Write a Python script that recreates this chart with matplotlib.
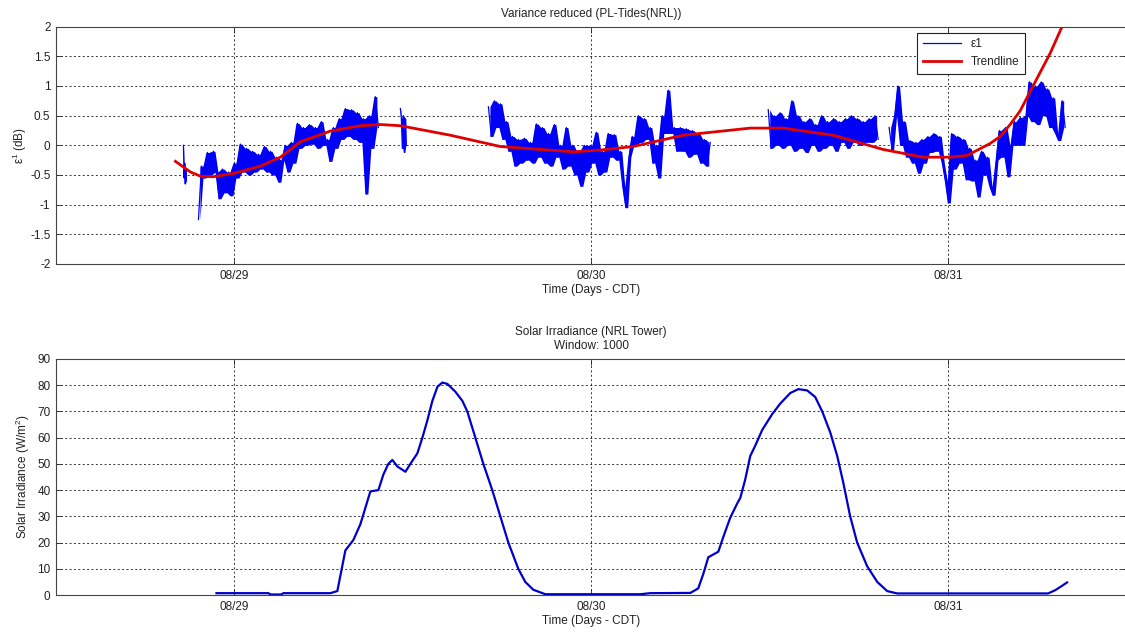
import datetime as dt

import matplotlib

matplotlib.use("Agg")
import matplotlib.dates as mdates
import matplotlib.pyplot as plt
import numpy as np

plt.rcParams.update({
    "font.family": ["Liberation Sans", "DejaVu Sans"],
    "font.size": 8.5,
    "text.color": "#222222",
    "axes.labelcolor": "#222222",
    "xtick.color": "#222222",
    "ytick.color": "#222222",
    "axes.edgecolor": "#444444",
    "axes.linewidth": 0.8,
    "mathtext.fontset": "custom",
    "mathtext.rm": "Liberation Sans",
})

BASE = dt.datetime(2012, 8, 28)

# --- epsilon1 (dB): segments of (start hour, end hour, values), hours after 08/28 00:00
EPS_A0_T = (20.57, 20.77)
EPS_A0 = [0.0, -0.55, -0.3, -0.65, -0.4, -0.6]
EPS_A_T = (21.58, 33.68)
EPS_A = [-1.25, -0.35, -0.55, -0.12, -0.5, -0.1, -0.45, -0.9, -0.4, -0.8,
         -0.45, -0.85, -0.3, -0.55, 0.02, -0.45, -0.05, -0.5, -0.1, -0.45,
         -0.15, -0.4, -0.02, -0.45, -0.1, -0.5, -0.2, -0.62, -0.25, 0.0,
         -0.45, 0.05, -0.3, 0.37, -0.05, 0.3, 0.0, 0.35, 0.02, 0.3,
         -0.05, 0.4, 0.0, 0.1, -0.27, 0.3, -0.05, 0.45, 0.1, 0.62,
         0.15, 0.6, 0.1, 0.55, 0.05, 0.45, -0.82, 0.5, -0.05, 0.82, 0.3]
EPS_A2_T = (35.16, 35.56)
EPS_A2 = [0.62, 0.45, -0.05, 0.5, -0.12, 0.45, 0.0]
EPS_B_T = (41.08, 56.0)
EPS_B = [0.65, 0.15, 0.75, 0.3, 0.7, 0.1, 0.4, -0.1, 0.15, -0.35,
         0.1, -0.3, 0.12, -0.25, 0.05, -0.3, 0.36, -0.2, 0.3, -0.3,
         0.2, -0.35, 0.35, -0.2, 0.0, -0.4, 0.3, -0.35, 0.0, -0.5,
         -0.1, -0.69, 0.0, -0.45, 0.0, -0.3, 0.22, -0.5, -0.1, -0.45,
         0.2, -0.2, 0.18, -0.25, -0.1, -0.7, -1.05, -0.2, 0.15, 0.0,
         0.5, 0.05, 0.45, 0.1, 0.3, -0.3, 0.0, -0.55, 0.5, 0.2,
         0.93, 0.2, 0.3, -0.1, 0.3, -0.1, 0.28, -0.2, 0.25, -0.15,
         0.2, -0.3, 0.1, -0.35, 0.05]
EPS_C_T = (59.9, 67.29)
EPS_C = [0.6, -0.05, 0.5, 0.0, 0.55, -0.05, 0.45, 0.0, 0.75, -0.1,
         0.5, -0.05, 0.4, -0.12, 0.45, 0.0, 0.35, -0.1, 0.5, -0.05,
         0.4, 0.0, 0.45, -0.1, 0.4, 0.05, 0.45, -0.05, 0.5, 0.05,
         0.45, 0.0, 0.4, 0.05, 0.45, 0.05, 0.5, 0.1]
EPS_D_T = (68.03, 79.87)
EPS_D = [0.3, -0.08, 0.5, 1.0, 0.0, 0.4, -0.2, 0.08, -0.3, 0.05,
         -0.47, 0.1, -0.3, 0.15, -0.12, 0.2, -0.1, 0.15, -0.3, -0.6,
         -0.97, 0.2, -0.4, 0.15, -0.3, 0.1, -0.58, -0.05, -0.6, -0.25,
         -0.87, -0.1, -0.5, -0.2, -0.7, -0.84, -0.25, 0.25, -0.2, 0.3,
         -0.53, 0.0, 0.4, 0.0, 0.47, 0.0, 0.5, 1.07, 0.4, 1.0,
         0.35, 1.07, 0.5, 0.95, 0.3, 0.8, 0.2, 0.08, 0.75, 0.3]
EPS_SEGMENTS = [(EPS_A0_T, EPS_A0), (EPS_A_T, EPS_A), (EPS_A2_T, EPS_A2),
                (EPS_B_T, EPS_B), (EPS_C_T, EPS_C), (EPS_D_T, EPS_D)]

# --- polynomial trendline
TREND_H = [20.03, 21.04, 21.71, 22.59, 24.0, 25.75, 27.09, 28.44, 30.45, 32.47,
           33.82, 35.16, 38.52, 41.88, 46.79, 48.61, 50.82, 54.18, 58.69, 60.91,
           64.27, 67.63, 70.32, 72.13, 73.28, 74.82, 75.5, 76.17, 76.84, 77.71,
           78.86, 79.66, 80.07]
TREND_V = [-0.27, -0.45, -0.52, -0.53, -0.47, -0.35, -0.2, 0.06, 0.24, 0.33,
           0.35, 0.33, 0.17, -0.02, -0.11, -0.08, -0.02, 0.17, 0.29, 0.29,
           0.17, -0.07, -0.2, -0.2, -0.17, 0.03, 0.15, 0.35, 0.58, 1.0,
           1.55, 2.0, 2.2]

# --- solar irradiance (W/m^2)
SOLAR_H = [22.79, 26.29, 26.42, 27.16, 27.29, 30.45, 30.92, 31.46, 32.0, 32.47,
           33.14, 33.68, 34.02, 34.35, 34.62, 34.96, 35.5, 35.83, 36.3, 36.64,
           36.97, 37.31, 37.65, 37.98, 38.32, 38.86, 39.33, 39.66, 40.2, 40.74,
           41.34, 41.88, 42.42, 43.09, 43.56, 44.1, 44.91, 51.29, 51.97, 54.66,
           55.19, 55.53, 55.87, 56.54, 56.87, 57.34, 57.82, 58.02, 58.35, 58.69,
           59.03, 59.5, 60.17, 60.71, 61.38, 61.92, 62.52, 63.06, 63.53, 64.07,
           64.54, 64.94, 65.41, 65.88, 66.55, 67.23, 67.9, 68.57, 78.72, 79.19,
           79.66, 80.0]
SOLAR_V = [0.7, 0.7, 0.2, 0.2, 0.7, 0.7, 1.5, 17, 21, 27,
           39.5, 40, 46, 50, 51.5, 49, 47, 50, 54, 60,
           66.5, 74, 79.4, 81, 80.5, 77.5, 74, 70, 60, 50,
           40, 30, 20, 10, 5, 2, 0.3, 0.3, 0.7, 0.8,
           2.5, 8, 14.4, 16.5, 22, 29.4, 35, 37, 44, 53,
           57, 63, 69, 73, 77, 78.5, 78, 75.5, 70, 62,
           53, 43, 30, 20, 11, 5, 1.5, 0.6, 0.6, 1.8,
           3.5, 4.8]

DAY_TICKS = [dt.datetime(2012, 8, 29), dt.datetime(2012, 8, 30), dt.datetime(2012, 8, 31)]
XLIM = (dt.datetime(2012, 8, 28, 12), dt.datetime(2012, 8, 31, 12))


def to_dates(hours):
    return [BASE + dt.timedelta(hours=float(h)) for h in hours]


def style_axes(ax):
    ax.set_xlim(*XLIM)
    ax.set_xticks(DAY_TICKS)
    ax.xaxis.set_major_formatter(mdates.DateFormatter("%m/%d"))
    ax.tick_params(direction="in", top=True, right=True, length=4, width=0.6, pad=4)
    ax.grid(True, color="#333333", ls=(0, (2, 2.5)), lw=0.7)
    ax.set_xlabel("Time (Days - CDT)", labelpad=2)


fig = plt.figure(figsize=(11.25, 6.34), dpi=100)
ax1 = fig.add_axes([0.0498, 0.5836, 0.9516, 0.3744])
ax2 = fig.add_axes([0.0498, 0.0615, 0.9516, 0.3723])

first = True
for (t0, t1), vals in EPS_SEGMENTS:
    hrs = np.linspace(t0, t1, len(vals))
    v = np.asarray(vals)
    # dense noise: shade the span swept between neighbouring samples
    mid = (hrs[:-1] + hrs[1:]) / 2
    lo = np.minimum(v[:-1], v[1:])
    hi = np.maximum(v[:-1], v[1:])
    ax1.fill_between(to_dates(mid), lo, hi, color="#0000f0", lw=0, zorder=2)
    ax1.plot(to_dates(hrs), vals, color="#0000ff", lw=0.9, zorder=2,
             label="\u03b51" if first else None)
    first = False
ax1.plot(to_dates(TREND_H), TREND_V, color="#e00000", lw=2.0, label="Trendline", zorder=3)
style_axes(ax1)
ax1.set_ylim(-2, 2)
ax1.set_yticks(np.arange(-2, 2.01, 0.5))
ax1.set_yticklabels(["-2", "-1.5", "-1", "-0.5", "0", "0.5", "1", "1.5", "2"])
ax1.set_ylabel("\u03b5$^1$ (dB)", labelpad=1)
ax1.set_title("Variance reduced (PL-Tides(NRL))", fontsize=8.5, pad=7)
leg = ax1.legend(loc="upper right", bbox_to_anchor=(0.905, 0.975), borderaxespad=0,
                 fancybox=False, edgecolor="#222222", framealpha=1, handlelength=3.2,
                 fontsize=8.5, borderpad=0.5, labelspacing=0.45)
leg.get_frame().set_linewidth(0.8)

ax2.plot(to_dates(SOLAR_H), SOLAR_V, color="#0000cc", lw=1.6)
style_axes(ax2)
ax2.set_ylim(0, 90)
ax2.set_yticks(np.arange(0, 91, 10))
ax2.set_ylabel("Solar Irradiance (W/m$^2$)", labelpad=4)
ax2.set_title("Solar Irradiance (NRL Tower)\nWindow: 1000", fontsize=8.5, pad=7, linespacing=1.3)

fig.savefig("out.png", dpi=100)
